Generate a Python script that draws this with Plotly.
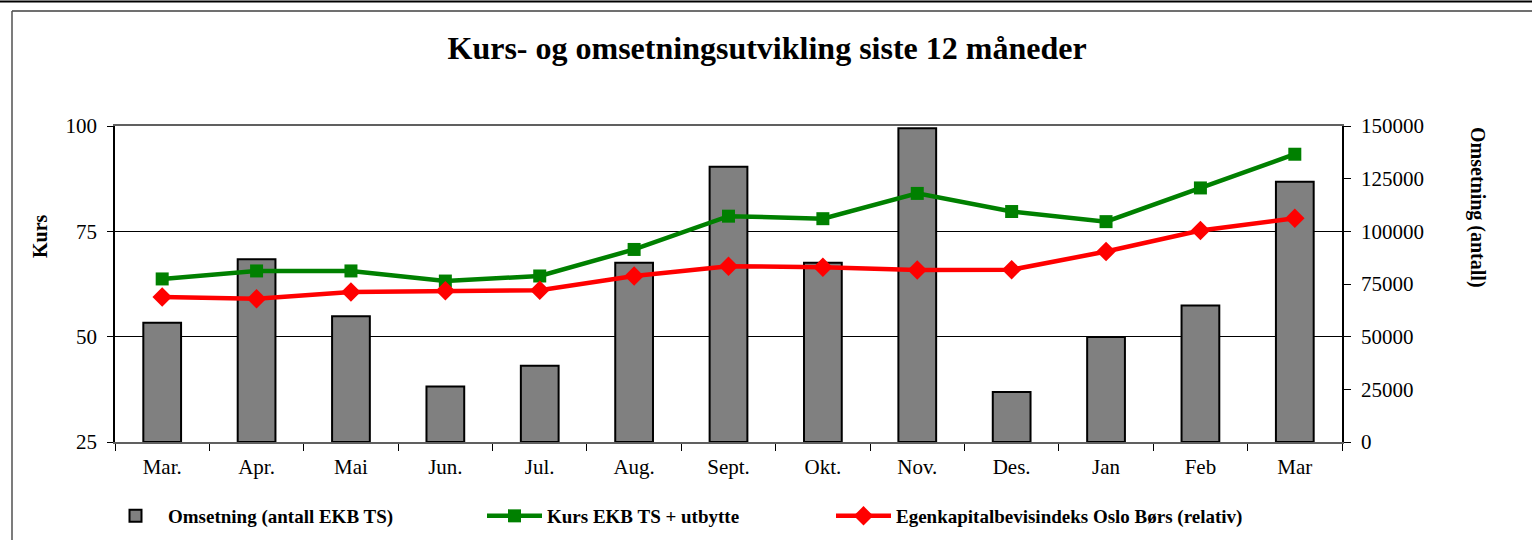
import plotly.graph_objects as go

months = ["Mar.", "Apr.", "Mai", "Jun.", "Jul.", "Aug.", "Sept.", "Okt.", "Nov.", "Des.", "Jan", "Feb", "Mar"]
omsetning = [56600, 86700, 59700, 26300, 36200, 85100, 130600, 85100, 148900, 23700, 49800, 64800, 123500]
kurs = [63.7, 65.6, 65.6, 63.2, 64.4, 70.7, 78.6, 78.0, 84.0, 79.7, 77.3, 85.3, 93.3]
indeks = [59.4, 59.0, 60.6, 60.9, 61.0, 64.4, 66.7, 66.5, 65.8, 65.9, 70.2, 75.2, 78.1]

left_ticks = [25, 50, 75, 100]
right_ticks = [0, 25000, 50000, 75000, 100000, 125000, 150000]
right_labels = [str(v) for v in right_ticks]

FONT = "Liberation Serif"
W, H = 1532, 540
L, R, T, B = 115, 190, 126, 98
PW, PH = W - L - R, H - T - B


def px_x(p):
    return (p - L) / PW


def px_y(p):
    return (H - B - p) / PH


fig = go.Figure()
fig.add_trace(go.Bar(
    x=months, y=omsetning, name="<b>Omsetning (antall EKB TS)</b>",
    marker=dict(color="#808080", line=dict(color="black", width=2)),
    width=0.4, yaxis="y", legend="legend", showlegend=True,
))
fig.add_trace(go.Scatter(
    x=months, y=kurs, name="<b>Kurs EKB TS + utbytte</b>", mode="lines+markers",
    line=dict(color="#008000", width=4.5),
    marker=dict(symbol="square", size=13, color="#008000"),
    yaxis="y2", legend="legend2",
))
fig.add_trace(go.Scatter(
    x=months, y=indeks, name="<b>Egenkapitalbevisindeks Oslo Børs (relativ)</b>", mode="lines+markers",
    line=dict(color="#FF0000", width=4.5),
    marker=dict(symbol="diamond", size=15, color="#FF0000"),
    yaxis="y2", legend="legend3",
))

leg_common = dict(orientation="h", yanchor="middle", xanchor="left",
                  font=dict(family=FONT, size=19, color="black"),
                  bgcolor="rgba(0,0,0,0)", itemwidth=55)

fig.update_layout(
    width=W, height=H,
    margin=dict(l=L, r=R, t=T, b=B, autoexpand=False),
    paper_bgcolor="white", plot_bgcolor="white",
    font=dict(family=FONT, color="black", size=21),
    title=dict(text="<b>Kurs- og omsetningsutvikling siste 12 måneder</b>",
               font=dict(family=FONT, size=32, color="black"),
               xref="container", yref="container", x=0.5007, y=1 - 48 / H,
               xanchor="center", yanchor="middle"),
    xaxis=dict(type="category", range=[-0.5, len(months) - 0.5],
               tickson="boundaries", ticks="outside", ticklen=7,
               tickcolor="black", showline=True, linecolor="#606060", linewidth=2,
               mirror=True, showgrid=False, ticklabelstandoff=5,
               tickfont=dict(family=FONT, size=21, color="black")),
    yaxis=dict(range=[0, 150000], tickvals=right_ticks, ticktext=right_labels,
               side="right", showgrid=False,
               ticks="outside", ticklen=7, tickcolor="black", showline=True,
               linecolor="black", linewidth=1.5, zeroline=False,
               ticklabelstandoff=6,
               tickfont=dict(family=FONT, size=21, color="black")),
    yaxis2=dict(range=[25, 100], tickvals=left_ticks, overlaying="y", side="left",
                showgrid=True, gridcolor="black", gridwidth=1,
                ticks="outside", ticklen=6, tickcolor="black", showline=True,
                linecolor="black", linewidth=1.5, zeroline=False,
                ticklabelstandoff=6,
                tickfont=dict(family=FONT, size=21, color="black")),
    legend=dict(x=px_x(103), y=px_y(516), **leg_common),
    legend2=dict(x=px_x(482), y=px_y(516), **leg_common),
    legend3=dict(x=px_x(831), y=px_y(516), **leg_common),
    annotations=[
        dict(text="<b>Kurs</b>", xref="paper", yref="paper", x=px_x(39.5), y=px_y(236.5),
             textangle=-90, showarrow=False, font=dict(family=FONT, size=20, color="black"),
             xanchor="center", yanchor="middle"),
        dict(text="<b>Omsetning (antall)</b>", xref="paper", yref="paper", x=px_x(1478), y=px_y(207),
             textangle=90, showarrow=False, font=dict(family=FONT, size=20, color="black"),
             xanchor="center", yanchor="middle"),
    ],
    shapes=[
        dict(type="line", xref="paper", yref="paper", x0=px_x(0), x1=px_x(W), y0=px_y(1.5), y1=px_y(1.5),
             line=dict(color="black", width=2)),
        dict(type="line", xref="paper", yref="paper", x0=px_x(12), x1=px_x(W), y0=px_y(11), y1=px_y(11),
             line=dict(color="#707070", width=2)),
        dict(type="line", xref="paper", yref="paper", x0=px_x(12), x1=px_x(12), y0=px_y(11), y1=px_y(H),
             line=dict(color="#505050", width=1.5)),
    ],
)

fig.write_html("out.html", config={"displayModeBar": False},
               post_script="document.body.style.margin='0px';")
